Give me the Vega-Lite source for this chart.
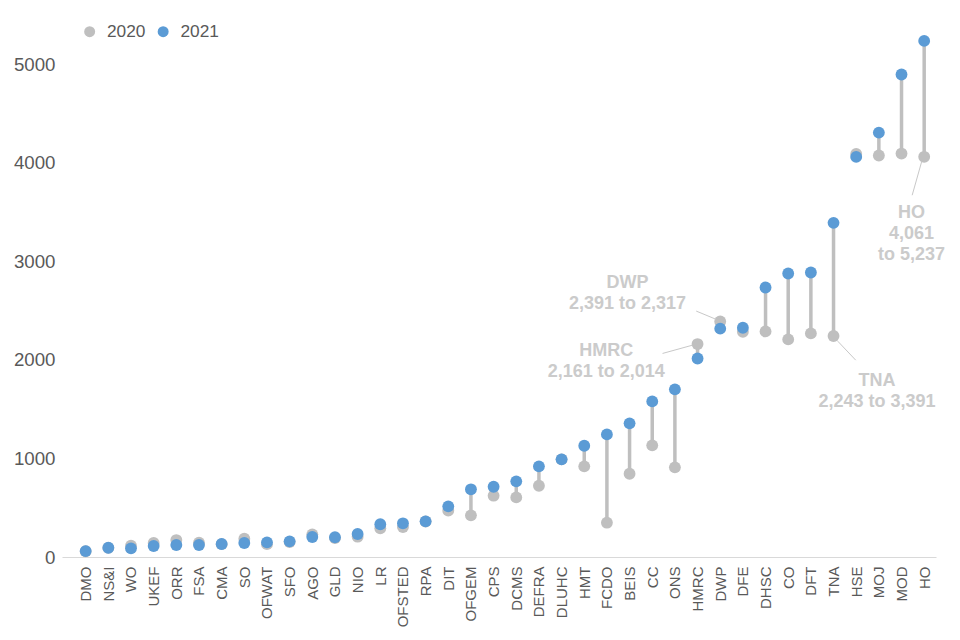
{
  "$schema": "https://vega.github.io/schema/vega-lite/v6.json",
  "autosize": "none",
  "width": 874,
  "height": 542,
  "padding": {"left": 62, "top": 15, "right": 24, "bottom": 83},
  "config": {
    "view": {"stroke": null},
    "font": "Liberation Sans, Arial, sans-serif",
    "axis": {"grid": false, "ticks": false}
  },
  "data": {
    "values": [
      {"dept": "DMO", "2020": 58, "2021": 60},
      {"dept": "NS&I", "2020": 92, "2021": 94},
      {"dept": "WO", "2020": 115, "2021": 88},
      {"dept": "UKEF", "2020": 142, "2021": 112},
      {"dept": "ORR", "2020": 172, "2021": 122},
      {"dept": "FSA", "2020": 145, "2021": 122},
      {"dept": "CMA", "2020": 130, "2021": 132},
      {"dept": "SO", "2020": 186, "2021": 142},
      {"dept": "OFWAT", "2020": 130, "2021": 149},
      {"dept": "SFO", "2020": 152, "2021": 159},
      {"dept": "AGO", "2020": 230, "2021": 203},
      {"dept": "GLD", "2020": 192, "2021": 200},
      {"dept": "NIO", "2020": 206, "2021": 233},
      {"dept": "LR", "2020": 291, "2021": 332},
      {"dept": "OFSTED", "2020": 304, "2021": 342},
      {"dept": "RPA", "2020": 360, "2021": 362},
      {"dept": "DIT", "2020": 470, "2021": 514},
      {"dept": "OFGEM", "2020": 423, "2021": 687},
      {"dept": "CPS", "2020": 622, "2021": 713},
      {"dept": "DCMS", "2020": 605, "2021": 768},
      {"dept": "DEFRA", "2020": 723, "2021": 920},
      {"dept": "DLUHC", "2020": 990, "2021": 991},
      {"dept": "HMT", "2020": 920, "2021": 1129},
      {"dept": "FCDO", "2020": 348, "2021": 1244},
      {"dept": "BEIS", "2020": 845, "2021": 1356},
      {"dept": "CC", "2020": 1133, "2021": 1579},
      {"dept": "ONS", "2020": 910, "2021": 1701},
      {"dept": "HMRC", "2020": 2161, "2021": 2014, "note": "HMRC\n2,161 to 2,014"},
      {"dept": "DWP", "2020": 2391, "2021": 2317, "note": "DWP\n2,391 to 2,317"},
      {"dept": "DFE", "2020": 2285, "2021": 2326},
      {"dept": "DHSC", "2020": 2289, "2021": 2735},
      {"dept": "CO", "2020": 2208, "2021": 2877},
      {"dept": "DFT", "2020": 2269, "2021": 2887},
      {"dept": "TNA", "2020": 2243, "2021": 3391, "note": "TNA\n2,243 to 3,391"},
      {"dept": "HSE", "2020": 4090, "2021": 4060},
      {"dept": "MOJ", "2020": 4074, "2021": 4307},
      {"dept": "MOD", "2020": 4094, "2021": 4896},
      {"dept": "HO", "2020": 4061, "2021": 5237, "note": "HO\n4,061\nto 5,237"}
    ]
  },
  "encoding": {
    "x": {
      "field": "dept",
      "type": "nominal",
      "sort": null,
      "scale": {"type": "point", "padding": 0.783, "align": 0.667},
      "axis": {
        "title": null,
        "labelAngle": -90,
        "labelFontSize": 15,
        "labelColor": "#595959",
        "labelPadding": 9,
        "domainColor": "#d9d9d9",
        "domainWidth": 1
      }
    }
  },
  "layer": [
    {
      "mark": {"type": "rule", "color": "#BFBFBF", "strokeWidth": 3.5},
      "encoding": {
        "y": {
          "field": "2020",
          "type": "quantitative",
          "scale": {"domain": [0, 5500], "nice": false},
          "axis": {
            "title": null,
            "values": [0, 1000, 2000, 3000, 4000, 5000],
            "format": "d",
            "domain": false,
            "labelFontSize": 18.7,
            "labelColor": "#595959",
            "labelPadding": 7
          }
        },
        "y2": {"field": "2021"}
      }
    },
    {
      "transform": [{"fold": ["2020", "2021"], "as": ["year", "value"]}],
      "mark": {"type": "circle", "opacity": 1, "size": 140},
      "encoding": {
        "y": {"field": "value", "type": "quantitative"},
        "color": {
          "field": "year",
          "type": "nominal",
          "scale": {"domain": ["2020", "2021"], "range": ["#BFBFBF", "#5B9BD5"]},
          "legend": {
            "title": null,
            "orient": "none",
            "direction": "horizontal",
            "legendX": 19,
            "legendY": 8,
            "symbolType": "circle",
            "symbolSize": 120,
            "symbolOpacity": 1,
            "labelFontSize": 17.3,
            "labelColor": "#595959",
            "labelOffset": 8.7,
            "columnPadding": 8.5
          }
        }
      }
    },
    {
      "transform": [{"filter": "datum.dept == 'DWP'"}],
      "mark": {"type": "rule", "color": "#c8c8c8", "strokeWidth": 1, "xOffset": -24, "yOffset": -10.3, "x2Offset": -4, "y2Offset": -2},
      "encoding": {"y": {"field": "2020", "type": "quantitative"}, "x2": {"field": "dept"}, "y2": {"field": "2020"}}
    },
    {
      "transform": [{"filter": "datum.dept == 'HMRC'"}],
      "mark": {"type": "rule", "color": "#c8c8c8", "strokeWidth": 1, "xOffset": -35, "yOffset": 9.4, "x2Offset": -5, "y2Offset": 1.1},
      "encoding": {"y": {"field": "2020", "type": "quantitative"}, "x2": {"field": "dept"}, "y2": {"field": "2020"}}
    },
    {
      "transform": [{"filter": "datum.dept == 'TNA'"}],
      "mark": {"type": "rule", "color": "#c8c8c8", "strokeWidth": 1, "xOffset": 4.2, "yOffset": 5.2, "x2Offset": 22.2, "y2Offset": 24.2},
      "encoding": {"y": {"field": "2020", "type": "quantitative"}, "x2": {"field": "dept"}, "y2": {"field": "2020"}}
    },
    {
      "transform": [{"filter": "datum.dept == 'HO'"}],
      "mark": {"type": "rule", "color": "#c8c8c8", "strokeWidth": 1, "xOffset": -2.6, "yOffset": 5.1, "x2Offset": -12, "y2Offset": 38.4},
      "encoding": {"y": {"field": "2020", "type": "quantitative"}, "x2": {"field": "dept"}, "y2": {"field": "2020"}}
    },
    {
      "transform": [{"filter": "datum.dept == 'DWP'"}],
      "mark": {"type": "text", "fontSize": 18, "fontWeight": "bold", "color": "#cbcbcb", "lineBreak": "\n", "lineHeight": 21, "baseline": "middle", "align": "center", "dx": -92.7, "dy": -38.3},
      "encoding": {"y": {"field": "2020", "type": "quantitative"}, "text": {"field": "note"}}
    },
    {
      "transform": [{"filter": "datum.dept == 'HMRC'"}],
      "mark": {"type": "text", "fontSize": 18, "fontWeight": "bold", "color": "#cbcbcb", "lineBreak": "\n", "lineHeight": 21, "baseline": "middle", "align": "center", "dx": -91.3, "dy": 7.1},
      "encoding": {"y": {"field": "2020", "type": "quantitative"}, "text": {"field": "note"}}
    },
    {
      "transform": [{"filter": "datum.dept == 'TNA'"}],
      "mark": {"type": "text", "fontSize": 18, "fontWeight": "bold", "color": "#cbcbcb", "lineBreak": "\n", "lineHeight": 21, "baseline": "middle", "align": "center", "dx": 43.5, "dy": 44.9},
      "encoding": {"y": {"field": "2020", "type": "quantitative"}, "text": {"field": "note"}}
    },
    {
      "transform": [{"filter": "datum.dept == 'HO'"}],
      "mark": {"type": "text", "fontSize": 18, "fontWeight": "bold", "color": "#cbcbcb", "lineBreak": "\n", "lineHeight": 21, "baseline": "middle", "align": "center", "dx": -12.6, "dy": 56.1},
      "encoding": {"y": {"field": "2020", "type": "quantitative"}, "text": {"field": "note"}}
    }
  ]
}
